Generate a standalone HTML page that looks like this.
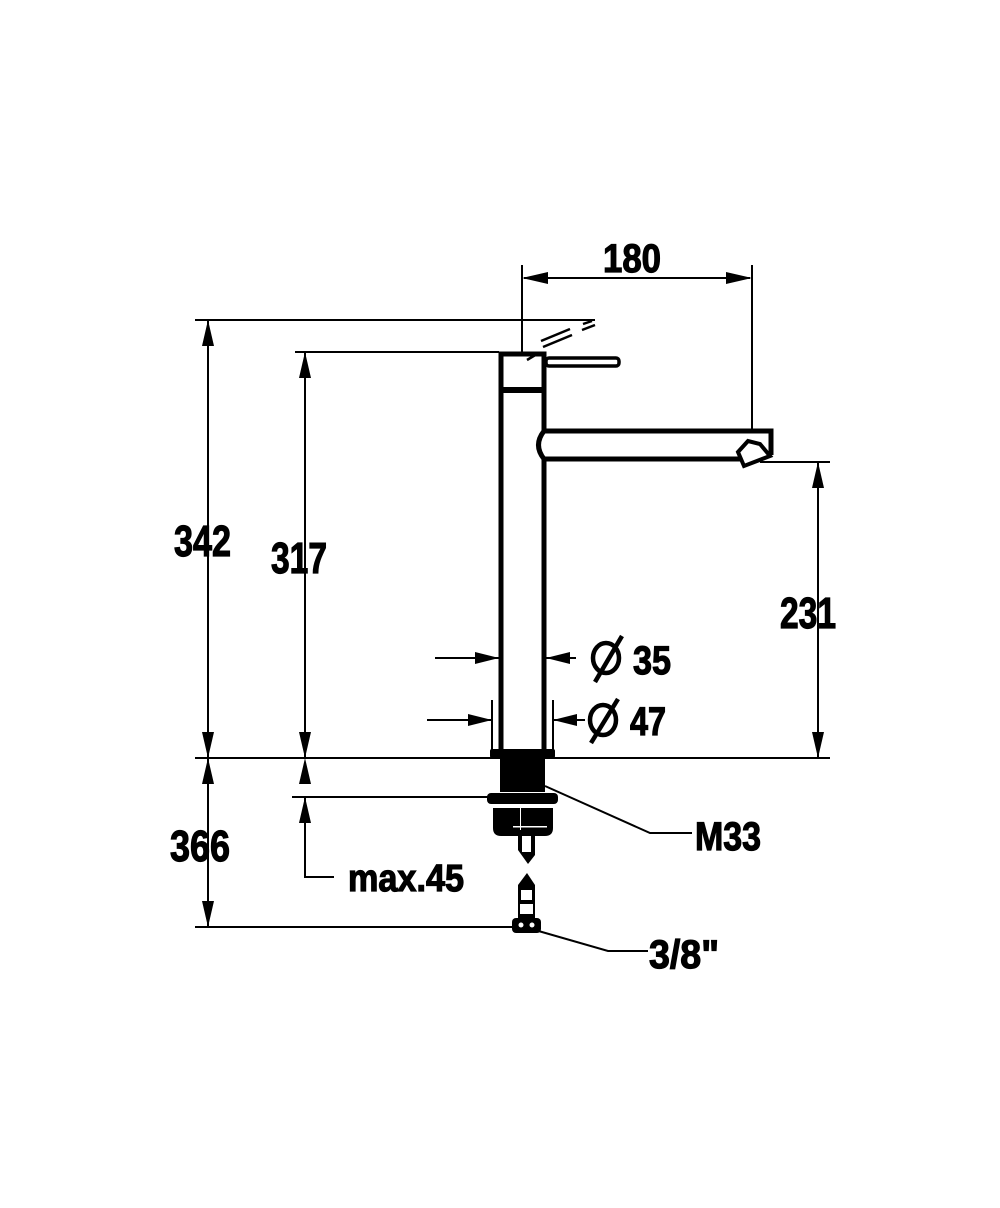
<!DOCTYPE html>
<html><head><meta charset="utf-8"><style>
html,body{margin:0;padding:0;background:#fff;}
svg{display:block;}
text{font-family:"Liberation Sans",sans-serif;font-weight:bold;fill:#000;stroke:#000;stroke-width:1.2;}
</style></head><body>
<svg width="1000" height="1208" viewBox="0 0 1000 1208" xmlns="http://www.w3.org/2000/svg">
<g stroke="#000" stroke-width="2" fill="none">
<line x1="522" y1="265" x2="522" y2="352"/>
<line x1="752" y1="265" x2="752" y2="430"/>
<line x1="524" y1="278" x2="750" y2="278"/>
<line x1="195" y1="320" x2="595" y2="320"/>
<line x1="208" y1="320" x2="208" y2="927"/>
<line x1="295" y1="352" x2="499" y2="352"/>
<line x1="305" y1="352" x2="305" y2="758"/>
<line x1="195" y1="758" x2="830" y2="758"/>
<line x1="760" y1="462" x2="830" y2="462"/>
<line x1="818" y1="462" x2="818" y2="758"/>
<line x1="195" y1="927" x2="520" y2="927"/>
<line x1="292" y1="797" x2="500" y2="797"/>
<polyline points="305,797 305,877 334,877"/>
<line x1="435" y1="658" x2="499" y2="658"/>
<line x1="546" y1="658" x2="576" y2="658"/>
<line x1="492" y1="700" x2="492" y2="752"/>
<line x1="553" y1="700" x2="553" y2="752"/>
<line x1="427" y1="720" x2="492" y2="720"/>
<line x1="553" y1="720" x2="585" y2="720"/>
<polyline points="545,786 650,833 692,833"/>
<polyline points="535,930 608,951 648,951"/>
</g>
<g fill="#000">
<path d="M522,278 l26,-6 l0,12z"/>
<path d="M752,278 l-26,-6 l0,12z"/>
<path d="M208,320 l-6,26 l12,0z"/>
<path d="M208,758 l-6,-26 l12,0z"/>
<path d="M208,758 l-6,26 l12,0z"/>
<path d="M208,927 l-6,-26 l12,0z"/>
<path d="M305,352 l-6,26 l12,0z"/>
<path d="M305,758 l-6,-26 l12,0z"/>
<path d="M305,758 l-6,26 l12,0z"/>
<path d="M305,797 l-6,26 l12,0z"/>
<path d="M818,462 l-6,26 l12,0z"/>
<path d="M818,758 l-6,-26 l12,0z"/>
<path d="M499,658 l-24,-6 l0,12z"/>
<path d="M546,658 l24,-6 l0,12z"/>
<path d="M492,720 l-24,-6 l0,12z"/>
<path d="M553,720 l24,-6 l0,12z"/>
</g>
<g stroke="#000" fill="none" stroke-width="5">
<rect x="501" y="354" width="43" height="36"/>
<line x1="501" y1="390" x2="501" y2="752"/>
<line x1="544" y1="390" x2="544" y2="432"/>
<line x1="544" y1="458" x2="544" y2="752"/>
<path d="M544,431 L771,431 L771,455 M544,459 L740,459 M544,431 Q533,445 544,459"/>
<rect x="546" y="358" width="73" height="8" rx="3" stroke-width="3.5"/>
</g>
<line x1="501" y1="390" x2="544" y2="390" stroke="#000" stroke-width="6"/>
<path d="M738,452 L748,441 L760,444 L770,456 L744,466z" fill="#fff" stroke="#000" stroke-width="4"/>
<g stroke="#000" stroke-width="2.5">
<line x1="527" y1="360" x2="537" y2="354"/>
<line x1="543" y1="347" x2="572" y2="335"/>
<line x1="541" y1="341" x2="570" y2="329"/>
<line x1="582" y1="330" x2="595" y2="325"/>
<line x1="583" y1="324" x2="592" y2="321"/>
</g>
<g fill="#000">
<rect x="490" y="749" width="65" height="9" rx="2"/>
<rect x="500" y="758" width="45" height="34"/>
<rect x="487" y="793" width="71" height="11" rx="4"/>
<path d="M493,808 L553,808 L553,828 Q553,836 545,836 L501,836 Q493,836 493,828z"/>
<path d="M518,836 L535,836 L535,855 L528,864 L518,850z"/>
<path d="M518,885 L527,873 L535,885 L535,920 L518,920z"/>
<rect x="512" y="918" width="29" height="15" rx="4"/>
</g>
<g fill="#fff">
<rect x="522" y="836" width="9" height="16"/>
<rect x="521" y="890" width="11" height="10"/>
<rect x="520" y="904" width="13" height="10"/>
<circle cx="521" cy="925" r="2.5"/>
<circle cx="532" cy="925" r="2.5"/>
<rect x="520" y="805" width="1" height="25"/>
<rect x="513" y="826" width="34" height="1.5"/>
</g>
<text x="603" y="272" font-size="40" textLength="58" lengthAdjust="spacingAndGlyphs">180</text>
<text x="174" y="556" font-size="44" textLength="57" lengthAdjust="spacingAndGlyphs">342</text>
<text x="271" y="573" font-size="44" textLength="56" lengthAdjust="spacingAndGlyphs">317</text>
<text x="780" y="628" font-size="44" textLength="56" lengthAdjust="spacingAndGlyphs">231</text>
<text x="170" y="861" font-size="44" textLength="60" lengthAdjust="spacingAndGlyphs">366</text>
<text x="348" y="891" font-size="38" textLength="116" lengthAdjust="spacingAndGlyphs">max.45</text>
<text x="695" y="850" font-size="40" textLength="66" lengthAdjust="spacingAndGlyphs">M33</text>
<text x="649" y="968" font-size="40" textLength="70" lengthAdjust="spacingAndGlyphs">3/8"</text>
<text x="633" y="674" font-size="40" textLength="38" lengthAdjust="spacingAndGlyphs">35</text>
<text x="630" y="735" font-size="40" textLength="36" lengthAdjust="spacingAndGlyphs">47</text>
<g stroke="#000" stroke-width="4.5" fill="none">
<ellipse cx="606" cy="658" rx="13" ry="15"/>
<line x1="595" y1="682" x2="622" y2="636"/>
<ellipse cx="603" cy="720" rx="13" ry="15"/>
<line x1="591" y1="743" x2="618" y2="699"/>
</g>
</svg>
</body></html>
